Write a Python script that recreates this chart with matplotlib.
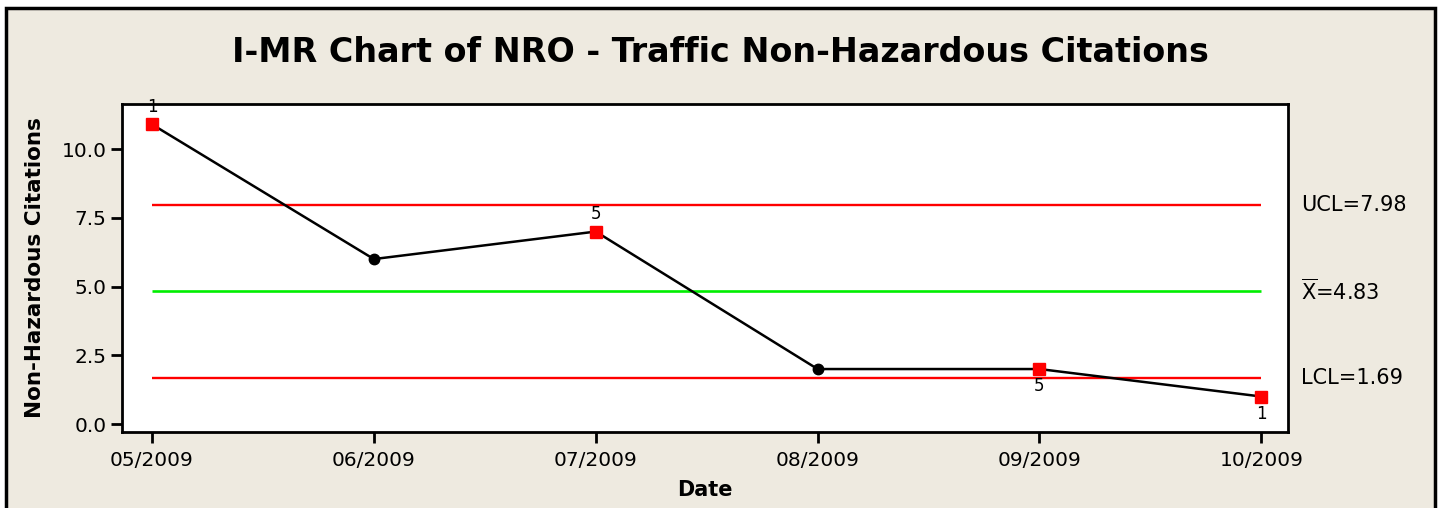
import matplotlib
matplotlib.use("Agg")
import matplotlib.pyplot as plt
from matplotlib.patches import Rectangle
from matplotlib.transforms import blended_transform_factory

dates = ["05/2009", "06/2009", "07/2009", "08/2009", "09/2009", "10/2009"]
values = [10.9, 6.0, 7.0, 2.0, 2.0, 1.0]
flagged = [True, False, True, False, True, True]
flag_labels = ["1", "", "5", "", "5", "1"]
flag_above = [True, True, True, True, False, False]
ucl = 7.98
center = 4.83
lcl = 1.69
yticks = [0.0, 2.5, 5.0, 7.5, 10.0]

W, H = 1442, 508
fig = plt.figure(figsize=(W / 100, H / 100), dpi=100, facecolor="white")
bg = "#EEEAE0"
fig.patches.append(Rectangle((6 / W, -0.05), (1435 - 6) / W, 1.05 - 8 / H,
                             transform=fig.transFigure, facecolor=bg,
                             edgecolor="black", linewidth=2.5, zorder=-10))

ax = fig.add_axes([122 / W, 1 - 432 / H, (1288 - 122) / W, (432 - 104) / H])
ax.set_facecolor("white")
x = list(range(len(values)))

ax.hlines([ucl, lcl], x[0], x[-1], colors="#FF0000", linewidth=1.7, zorder=2)
ax.hlines([center], x[0], x[-1], colors="#00EE00", linewidth=1.9, zorder=2)
ax.plot(x, values, color="black", linewidth=1.8, zorder=3)
for xi, v, f in zip(x, values, flagged):
    if f:
        ax.plot(xi, v, marker="s", color="#FF0000", markersize=8.5, zorder=4)
    else:
        ax.plot(xi, v, marker="o", color="black", markersize=7.5, zorder=4)
for xi, v, lab, above in zip(x, values, flag_labels, flag_above):
    if lab:
        if above:
            ax.annotate(lab, (xi, v), xytext=(0, 6), textcoords="offset points",
                        ha="center", va="bottom", fontsize=12)
        else:
            ax.annotate(lab, (xi, v), xytext=(0, -6), textcoords="offset points",
                        ha="center", va="top", fontsize=12)

ax.set_xlim(-0.135, 5.12)
ax.set_ylim(-0.29, 11.64)
ax.set_xticks(x)
ax.set_xticklabels(dates, fontsize=14.5)
ax.set_yticks(yticks)
ax.set_yticklabels([f"{t:.1f}" for t in yticks], fontsize=14.5)
ax.tick_params(direction="out", length=8, width=2)
ax.tick_params(axis="x", pad=6)
ax.tick_params(axis="y", pad=3)
for s in ax.spines.values():
    s.set_linewidth(2)
ax.set_xlabel("Date", fontsize=15, fontweight="bold", labelpad=7)
ax.set_ylabel("Non-Hazardous Citations", fontsize=15.5, fontweight="bold", labelpad=12)

lab_x = 1301 / W
bt = blended_transform_factory(fig.transFigure, ax.transData)
ax.text(lab_x, ucl, f"UCL={ucl:.2f}", transform=bt, fontsize=15, va="center", ha="left", clip_on=False)
ax.text(lab_x, center, r"$\overline{\mathrm{X}}$" + f"={center:.2f}", transform=bt, fontsize=15,
        va="center", ha="left", clip_on=False)
ax.text(lab_x, lcl, f"LCL={lcl:.2f}", transform=bt, fontsize=15, va="center", ha="left", clip_on=False)

fig.text(720 / W, 1 - 52 / H, "I-MR Chart of NRO - Traffic Non-Hazardous Citations",
         ha="center", va="center", fontsize=24, fontweight="bold")

fig.savefig("out.png", dpi=100, facecolor=fig.get_facecolor())
